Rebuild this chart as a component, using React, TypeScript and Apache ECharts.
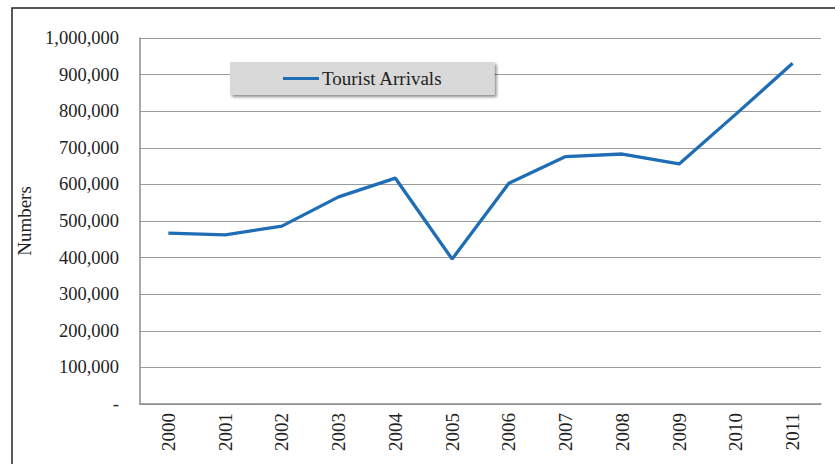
import React, { useEffect, useRef } from "react";
import * as echarts from "echarts";

const years = ["2000", "2001", "2002", "2003", "2004", "2005", "2006", "2007", "2008", "2009", "2010", "2011"];
const arrivals = [467000, 462000, 486000, 566000, 617000, 396000, 603000, 676000, 683000, 656000, 792000, 931000];
const seriesName = "Tourist Arrivals";
const yAxisName = "Numbers";

const FONT = "Liberation Serif";

export default function App() {
  const ref = useRef<HTMLDivElement>(null);
  useEffect(() => {
    if (!ref.current) return;
    const chart = echarts.init(ref.current, undefined, { renderer: "svg" });
    chart.setOption({
      animation: false,
      backgroundColor: "#ffffff",
      graphic: [
        {
          type: "rect",
          shape: { x: 12, y: 8, width: 840, height: 470 },
          style: { fill: "none", stroke: "#222", lineWidth: 1.5 },
          silent: true,
        },
      ],
      grid: { left: 140, top: 38, right: 14, bottom: 60 },
      legend: {
        left: 230,
        top: 62,
        data: [seriesName],
        icon: "rect",
        itemWidth: 36,
        itemHeight: 3,
        padding: [7, 52, 7, 53],
        backgroundColor: "#d9d9d9",
        shadowBlur: 3,
        shadowColor: "rgba(0,0,0,0.45)",
        shadowOffsetX: 2,
        shadowOffsetY: 2,
        textStyle: { fontFamily: FONT, fontSize: 19, color: "#222", padding: [0, 0, 0, -2] },
      },
      xAxis: {
        type: "category",
        data: years,
        boundaryGap: true,
        axisLine: { lineStyle: { color: "#8c8c8c", width: 1.5 } },
        axisTick: { show: false },
        axisLabel: {
          rotate: 90,
          fontFamily: FONT,
          fontSize: 19,
          color: "#222",
          margin: 9,
          interval: 0,
        },
      },
      yAxis: {
        type: "value",
        min: 0,
        max: 1000000,
        interval: 100000,
        name: yAxisName,
        nameLocation: "middle",
        nameGap: 86,
        nameRotate: 90,
        nameTextStyle: { fontFamily: FONT, fontSize: 19, color: "#222" },
        axisLine: { show: true, lineStyle: { color: "#8c8c8c", width: 1.5 } },
        axisTick: { show: false },
        splitLine: { lineStyle: { color: "#9a9a9a", width: 1.2 } },
        axisLabel: {
          fontFamily: FONT,
          fontSize: 18.5,
          color: "#222",
          margin: 21,
          formatter: (v: number) => (v === 0 ? "-" : v.toLocaleString("en-US")),
        },
      },
      series: [
        {
          name: seriesName,
          type: "line",
          data: arrivals,
          showSymbol: false,
          symbol: "none",
          lineStyle: { color: "#1f6db4", width: 3.3 },
          itemStyle: { color: "#1f6db4" },
        },
      ],
    });
    return () => chart.dispose();
  }, []);
  return (
    <div
      ref={ref}
      style={{ position: "fixed", left: 0, top: 0, width: 835, height: 464 }}
    />
  );
}
